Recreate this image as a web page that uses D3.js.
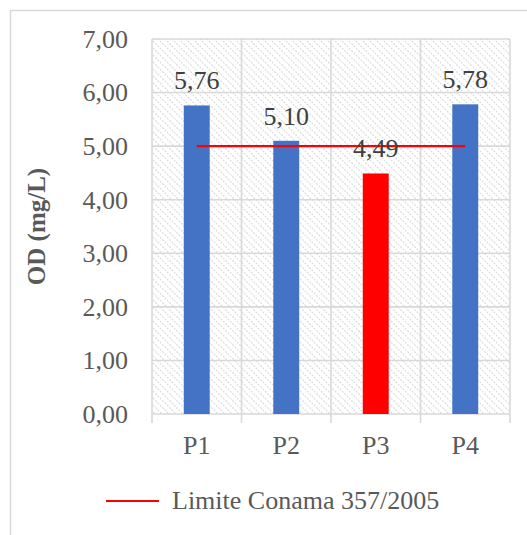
<!DOCTYPE html>
<html>
<head>
<meta charset="utf-8">
<script src="https://cdn.jsdelivr.net/npm/d3@7"></script>
<style>
  html, body { margin: 0; padding: 0; background: #fff; }
  svg { display: block; }
  text { font-family: "Liberation Serif", "Times New Roman", serif; }
</style>
</head>
<body>
<svg id="chart" width="527" height="535"></svg>
<script>
// Dissolved oxygen per sampling point
const categories = ["P1", "P2", "P3", "P4"];
const odValues = [5.76, 5.10, 4.49, 5.78];
const barColors = ["#4472C4", "#4472C4", "#FF0000", "#4472C4"];
const limitValue = 5.00;
const yTicks = [0, 1, 2, 3, 4, 5, 6, 7];
const yTitle = "OD (mg/L)";
const legendLabel = "Limite Conama 357/2005";

const ptBR = d3.formatLocale({ decimal: ",", thousands: ".", grouping: [3], currency: ["R$", ""] });
const fmt = ptBR.format(".2f");

const svg = d3.select("#chart");
const plot = { left: 152, right: 510, top: 39, bottom: 414 };
const gridColor = "#d9d9d9";

// outer chart frame
svg.append("rect")
  .attr("x", 10.5).attr("y", 10.5)
  .attr("width", 600).attr("height", 600)
  .attr("fill", "#fff")
  .attr("stroke", gridColor).attr("stroke-width", 1.5);

// diagonal hatch fill for the plot area
const defs = svg.append("defs");
const pat = defs.append("pattern")
  .attr("id", "hatch")
  .attr("patternUnits", "userSpaceOnUse")
  .attr("width", 7).attr("height", 7);
pat.append("rect").attr("width", 7).attr("height", 7).attr("fill", "#fff");
pat.append("path")
  .attr("d", "M-1,-1 L8,8 M-1,6 L1,8 M6,-1 L8,1")
  .attr("stroke", "#dcdcdc").attr("stroke-width", 1.2)
  .attr("stroke-dasharray", "2,1.3");

const x = d3.scaleBand().domain(categories).range([plot.left, plot.right]).padding(0);
const y = d3.scaleLinear().domain([0, 7]).range([plot.bottom, plot.top]);

svg.append("rect")
  .attr("x", plot.left).attr("y", plot.top)
  .attr("width", plot.right - plot.left).attr("height", plot.bottom - plot.top)
  .attr("fill", "url(#hatch)");

// horizontal gridlines
svg.append("g").selectAll("line").data(yTicks).join("line")
  .attr("x1", plot.left).attr("x2", plot.right)
  .attr("y1", d => y(d)).attr("y2", d => y(d))
  .attr("stroke", gridColor).attr("stroke-width", 1.6);

// vertical gridlines at category boundaries (with tick marks below the axis)
const bounds = categories.map(c => x(c)).concat([x(categories[categories.length - 1]) + x.bandwidth()]);
svg.append("g").selectAll("line").data(bounds).join("line")
  .attr("x1", d => d).attr("x2", d => d)
  .attr("y1", plot.top).attr("y2", plot.bottom + 9)
  .attr("stroke", gridColor).attr("stroke-width", 1.6);

// y axis labels
const yAxis = d3.axisLeft(y).tickValues(yTicks).tickFormat(fmt).tickSize(0).tickPadding(24);
const gy = svg.append("g").attr("transform", `translate(${plot.left},0)`).call(yAxis);
gy.select(".domain").remove();
gy.selectAll("text")
  .attr("font-family", "Liberation Serif, Times New Roman, serif")
  .attr("font-size", 26).attr("fill", "#595959");

// x axis labels
const xAxis = d3.axisBottom(x).tickSize(0).tickPadding(22);
const gx = svg.append("g").attr("transform", `translate(0,${plot.bottom})`).call(xAxis);
gx.select(".domain").remove();
gx.selectAll("text")
  .attr("font-family", "Liberation Serif, Times New Roman, serif")
  .attr("font-size", 26).attr("fill", "#595959");

// bars
const barW = x.bandwidth() * 0.29;
svg.append("g").selectAll("rect").data(odValues).join("rect")
  .attr("x", (d, i) => x(categories[i]) + (x.bandwidth() - barW) / 2)
  .attr("y", d => y(d))
  .attr("width", barW)
  .attr("height", d => y(0) - y(d))
  .attr("fill", (d, i) => barColors[i]);

// limit line from first to last category centre
const cx = c => x(c) + x.bandwidth() / 2;
svg.append("line")
  .attr("x1", cx(categories[0])).attr("x2", cx(categories[categories.length - 1]))
  .attr("y1", y(limitValue)).attr("y2", y(limitValue))
  .attr("stroke", "#FF0000").attr("stroke-width", 2.2);

// value labels
svg.append("g").selectAll("text").data(odValues).join("text")
  .attr("x", (d, i) => cx(categories[i]))
  .attr("y", d => y(d) - 16)
  .attr("text-anchor", "middle")
  .attr("font-size", 26).attr("fill", "#404040")
  .text(d => fmt(d));

// y axis title
svg.append("text")
  .attr("transform", `translate(45,${(plot.top + plot.bottom) / 2}) rotate(-90)`)
  .attr("text-anchor", "middle")
  .attr("font-size", 25).attr("font-weight", "bold").attr("fill", "#595959")
  .text(yTitle);

// legend
svg.append("line")
  .attr("x1", 106).attr("x2", 159).attr("y1", 501).attr("y2", 501)
  .attr("stroke", "#FF0000").attr("stroke-width", 2.2);
svg.append("text")
  .attr("x", 172).attr("y", 509)
  .attr("font-size", 26).attr("fill", "#595959")
  .text(legendLabel);
</script>
</body>
</html>
